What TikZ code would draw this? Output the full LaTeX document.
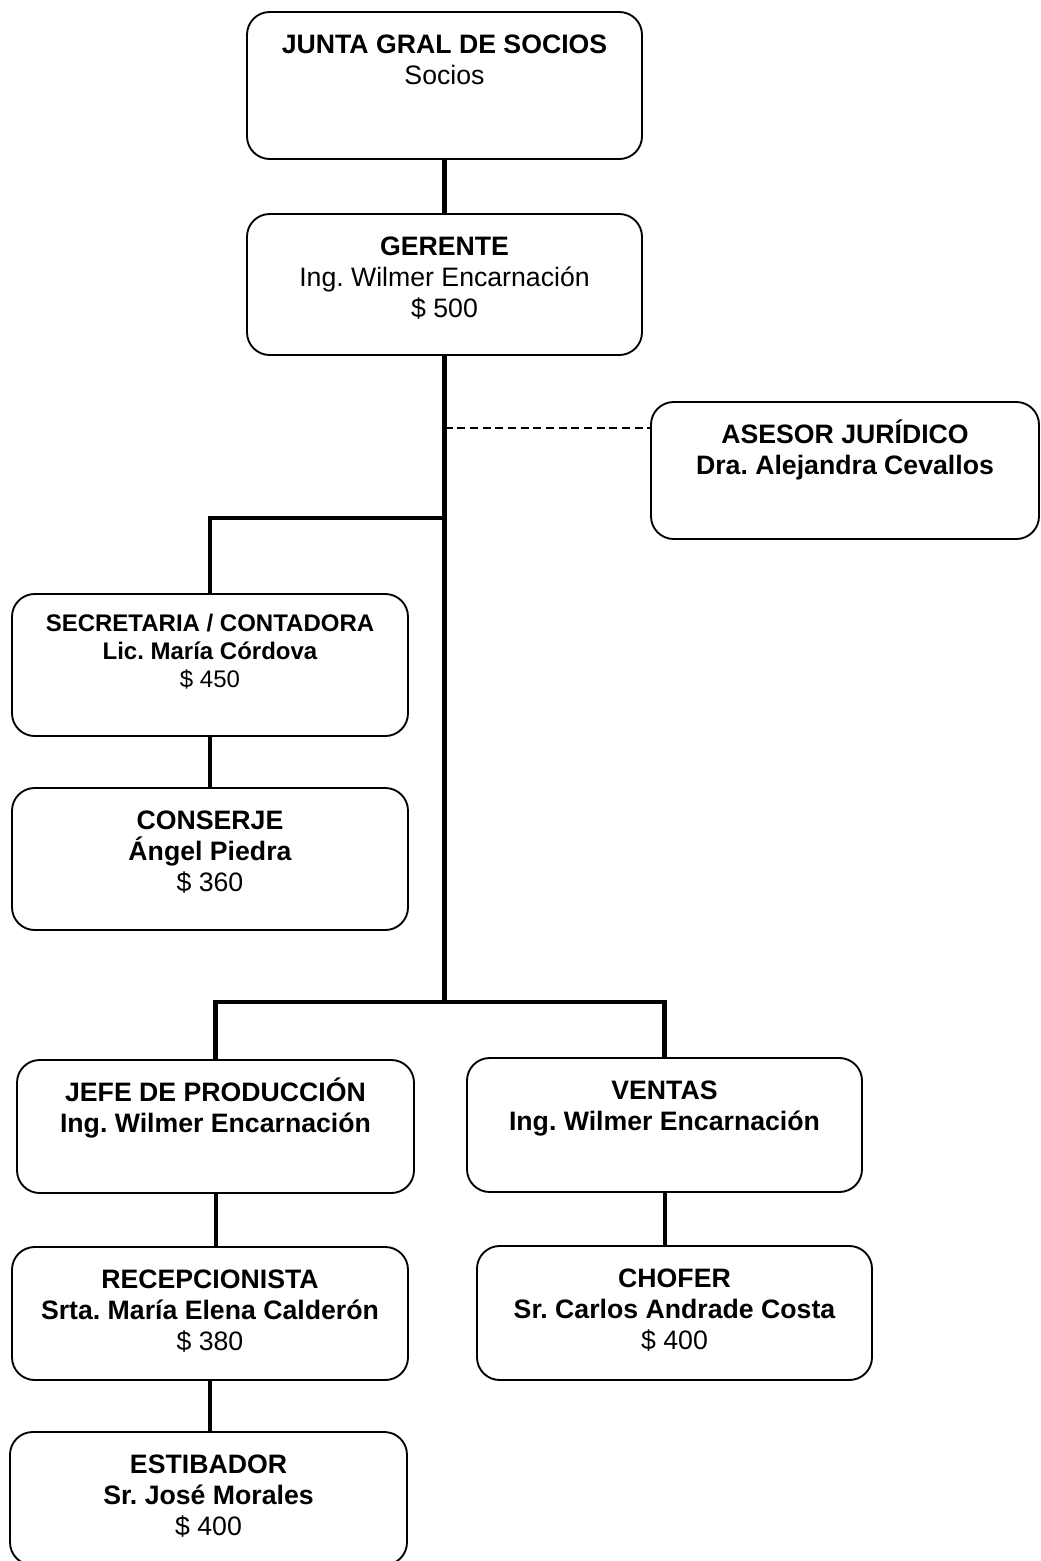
\documentclass[tikz,border=0pt]{standalone}
\usepackage{fontspec}
\setmainfont{Liberation Sans}
\frenchspacing

% texto de un cargo: ancho, alto, primera linea a #1 del borde
\newcommand{\puesto}[4][30.75pt]{\parbox[c][#3][t]{#2}{\centering\rule{0pt}{#1}#4}}

\begin{document}
\begin{tikzpicture}[x=0.75pt,y=-0.75pt,
		cargo/.style={draw, line width=1.4pt, rounded corners=17pt, inner sep=0pt,
			font=\fontsize{20}{23.25}\selectfont},
		tronco/.style={line width=3.9pt},
		rama/.style={line width=3.4pt},
		enlace/.style={line width=3pt},
		asesoria/.style={line width=1.1pt, dash pattern=on 6pt off 3.5pt}]
		\useasboundingbox (0,0) rectangle (1040,1561);

		% Direccion
		\node[cargo] (junta) at (444.5,85.5)
			{\puesto{296.25pt}{110.25pt}{\textbf{JUNTA GRAL DE SOCIOS}\\Socios}};
		\node[cargo] (gerente) at (444.5,284.5)
			{\puesto{296.25pt}{105.75pt}{\textbf{GERENTE}\\Ing. Wilmer Encarnación\\\$ 500}};
		\node[cargo] (asesor) at (845,470.5)
			{\puesto{291pt}{102.75pt}{{\bfseries ASESOR JURÍDICO\\Dra. Alejandra Cevallos}}};

		% Administracion
		\node[cargo, font=\fontsize{18}{21}\selectfont] (secretaria) at (210,665)
			{\puesto[27.75pt]{297pt}{106.5pt}{{\bfseries SECRETARIA / CONTADORA\\Lic. María Córdova}\\\$ 450}};
		\node[cargo] (conserje) at (210,859)
			{\puesto{297pt}{106.5pt}{{\bfseries CONSERJE\\Ángel Piedra}\\\$ 360}};

		% Produccion y ventas
		\node[cargo] (jefe) at (215.5,1126.5)
			{\puesto{297.75pt}{99.75pt}{{\bfseries JEFE DE PRODUCCIÓN\\Ing. Wilmer Encarnación}}};
		\node[cargo] (ventas) at (664.5,1125)
			{\puesto{296.25pt}{100.5pt}{{\bfseries VENTAS\\Ing. Wilmer Encarnación}}};
		\node[cargo] (recepcion) at (210,1313.5)
			{\puesto{297pt}{99.75pt}{{\bfseries RECEPCIONISTA\\Srta. María Elena Calderón}\\\$ 380}};
		\node[cargo] (chofer) at (674.5,1313)
			{\puesto{296.25pt}{100.5pt}{{\bfseries CHOFER\\Sr. Carlos Andrade Costa}\\\$ 400}};
		\node[cargo] (estibador) at (208.5,1498.5)
			{\puesto{297.75pt}{99.75pt}{{\bfseries ESTIBADOR\\Sr. José Morales}\\\$ 400}};

		% Puntos de cruce del tronco
		\coordinate (asesoria) at (444.5,428);
		\coordinate (nudo) at (444.5,518);
		\coordinate (cruce) at (444.5,1002);

		% Lineas de mando
		\draw[tronco] (junta.south) -- (gerente.north);
		\draw[tronco] (gerente.south) -- (cruce);
		\draw[asesoria] (asesoria) -- (asesoria -| asesor.west);
		\draw[rama] (nudo) -| (secretaria.north);
		\draw[enlace] (secretaria.south) -- (conserje.north);
		\draw[rama] (jefe.north) |- (cruce) -| (ventas.north);
		\draw[enlace] (jefe.south) -- (jefe.south |- recepcion.north);
		\draw[enlace] (ventas.south) -- (ventas.south |- chofer.north);
		\draw[enlace] (recepcion.south) -- (recepcion.south |- estibador.north);

	\end{tikzpicture}
\end{document}
